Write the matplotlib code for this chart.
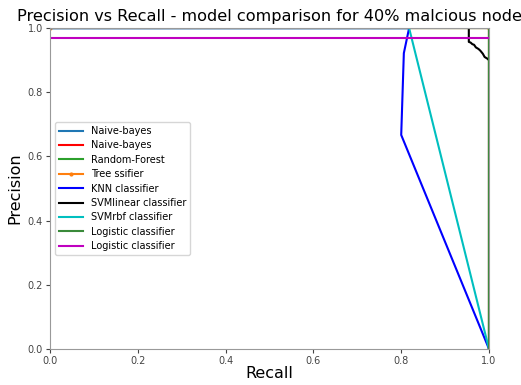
import matplotlib
matplotlib.use("Agg")
import matplotlib.pyplot as plt

# recall / precision pairs
nb_recall = [0.0, 1.0, 1.0]
nb_precision = [1.0, 1.0, 0.0]

rf_recall = [0.0, 1.0, 1.0]
rf_precision = [1.0, 1.0, 0.0]

tree_recall = [0.0, 1.0, 1.0]
tree_precision = [1.0, 1.0, 0.0]

knn_recall = [0.0, 0.818, 0.806, 0.80, 1.0]
knn_precision = [1.0, 1.0, 0.922, 0.667, 0.0]

svml_recall = [0.954, 0.954, 0.958, 0.962, 0.966, 0.970, 0.976, 0.980, 0.986, 0.990, 0.996, 1.0, 1.0]
svml_precision = [1.0, 0.957, 0.955, 0.950, 0.948, 0.940, 0.935, 0.930, 0.920, 0.910, 0.905, 0.900, 0.0]

svmrbf_recall = [0.0, 0.818, 1.0]
svmrbf_precision = [1.0, 1.0, 0.0]

log_recall = [0.0, 1.0]
log_precision = [0.97, 0.97]

fig = plt.figure(figsize=(5.21, 3.85), dpi=100)
ax = fig.add_axes([0.096, 0.0935, 0.8426, 0.8335])

ax.plot(nb_recall, nb_precision, color='tab:blue', label='Naive-bayes')
ax.plot(nb_recall, nb_precision, color='red', label='Naive-bayes')
ax.plot(rf_recall, rf_precision, color='tab:green', label='Random-Forest')
ax.plot(tree_recall, tree_precision, color='tab:orange', marker='o', markersize=2, label='Tree ssifier')
ax.plot(knn_recall, knn_precision, color='blue', label='KNN classifier')
ax.plot(svml_recall, svml_precision, color='black', label='SVMlinear classifier')
ax.plot(svmrbf_recall, svmrbf_precision, color='c', label='SVMrbf classifier')
ax.plot(rf_recall, rf_precision, color='#3a8a3a', label='Logistic classifier')
ax.plot(log_recall, log_precision, color='m', label='Logistic classifier')

ax.set_xlim(0, 1)
ax.set_ylim(0, 1)
ax.set_xlabel('Recall', fontsize=11.5, labelpad=0)
ax.set_ylabel('Precision', fontsize=11.5, labelpad=4)
ax.set_title('Precision vs Recall - model comparison for 40% malcious node', fontsize=11.6, pad=5)
ax.tick_params(labelsize=7, colors='#444444', length=3, pad=2)
for s in ax.spines.values():
    s.set_color('#999999')
ax.legend(loc='center left', fontsize=7, handlelength=2.5, borderpad=0.4, labelspacing=0.45)

fig.savefig('out.png', dpi=100)
